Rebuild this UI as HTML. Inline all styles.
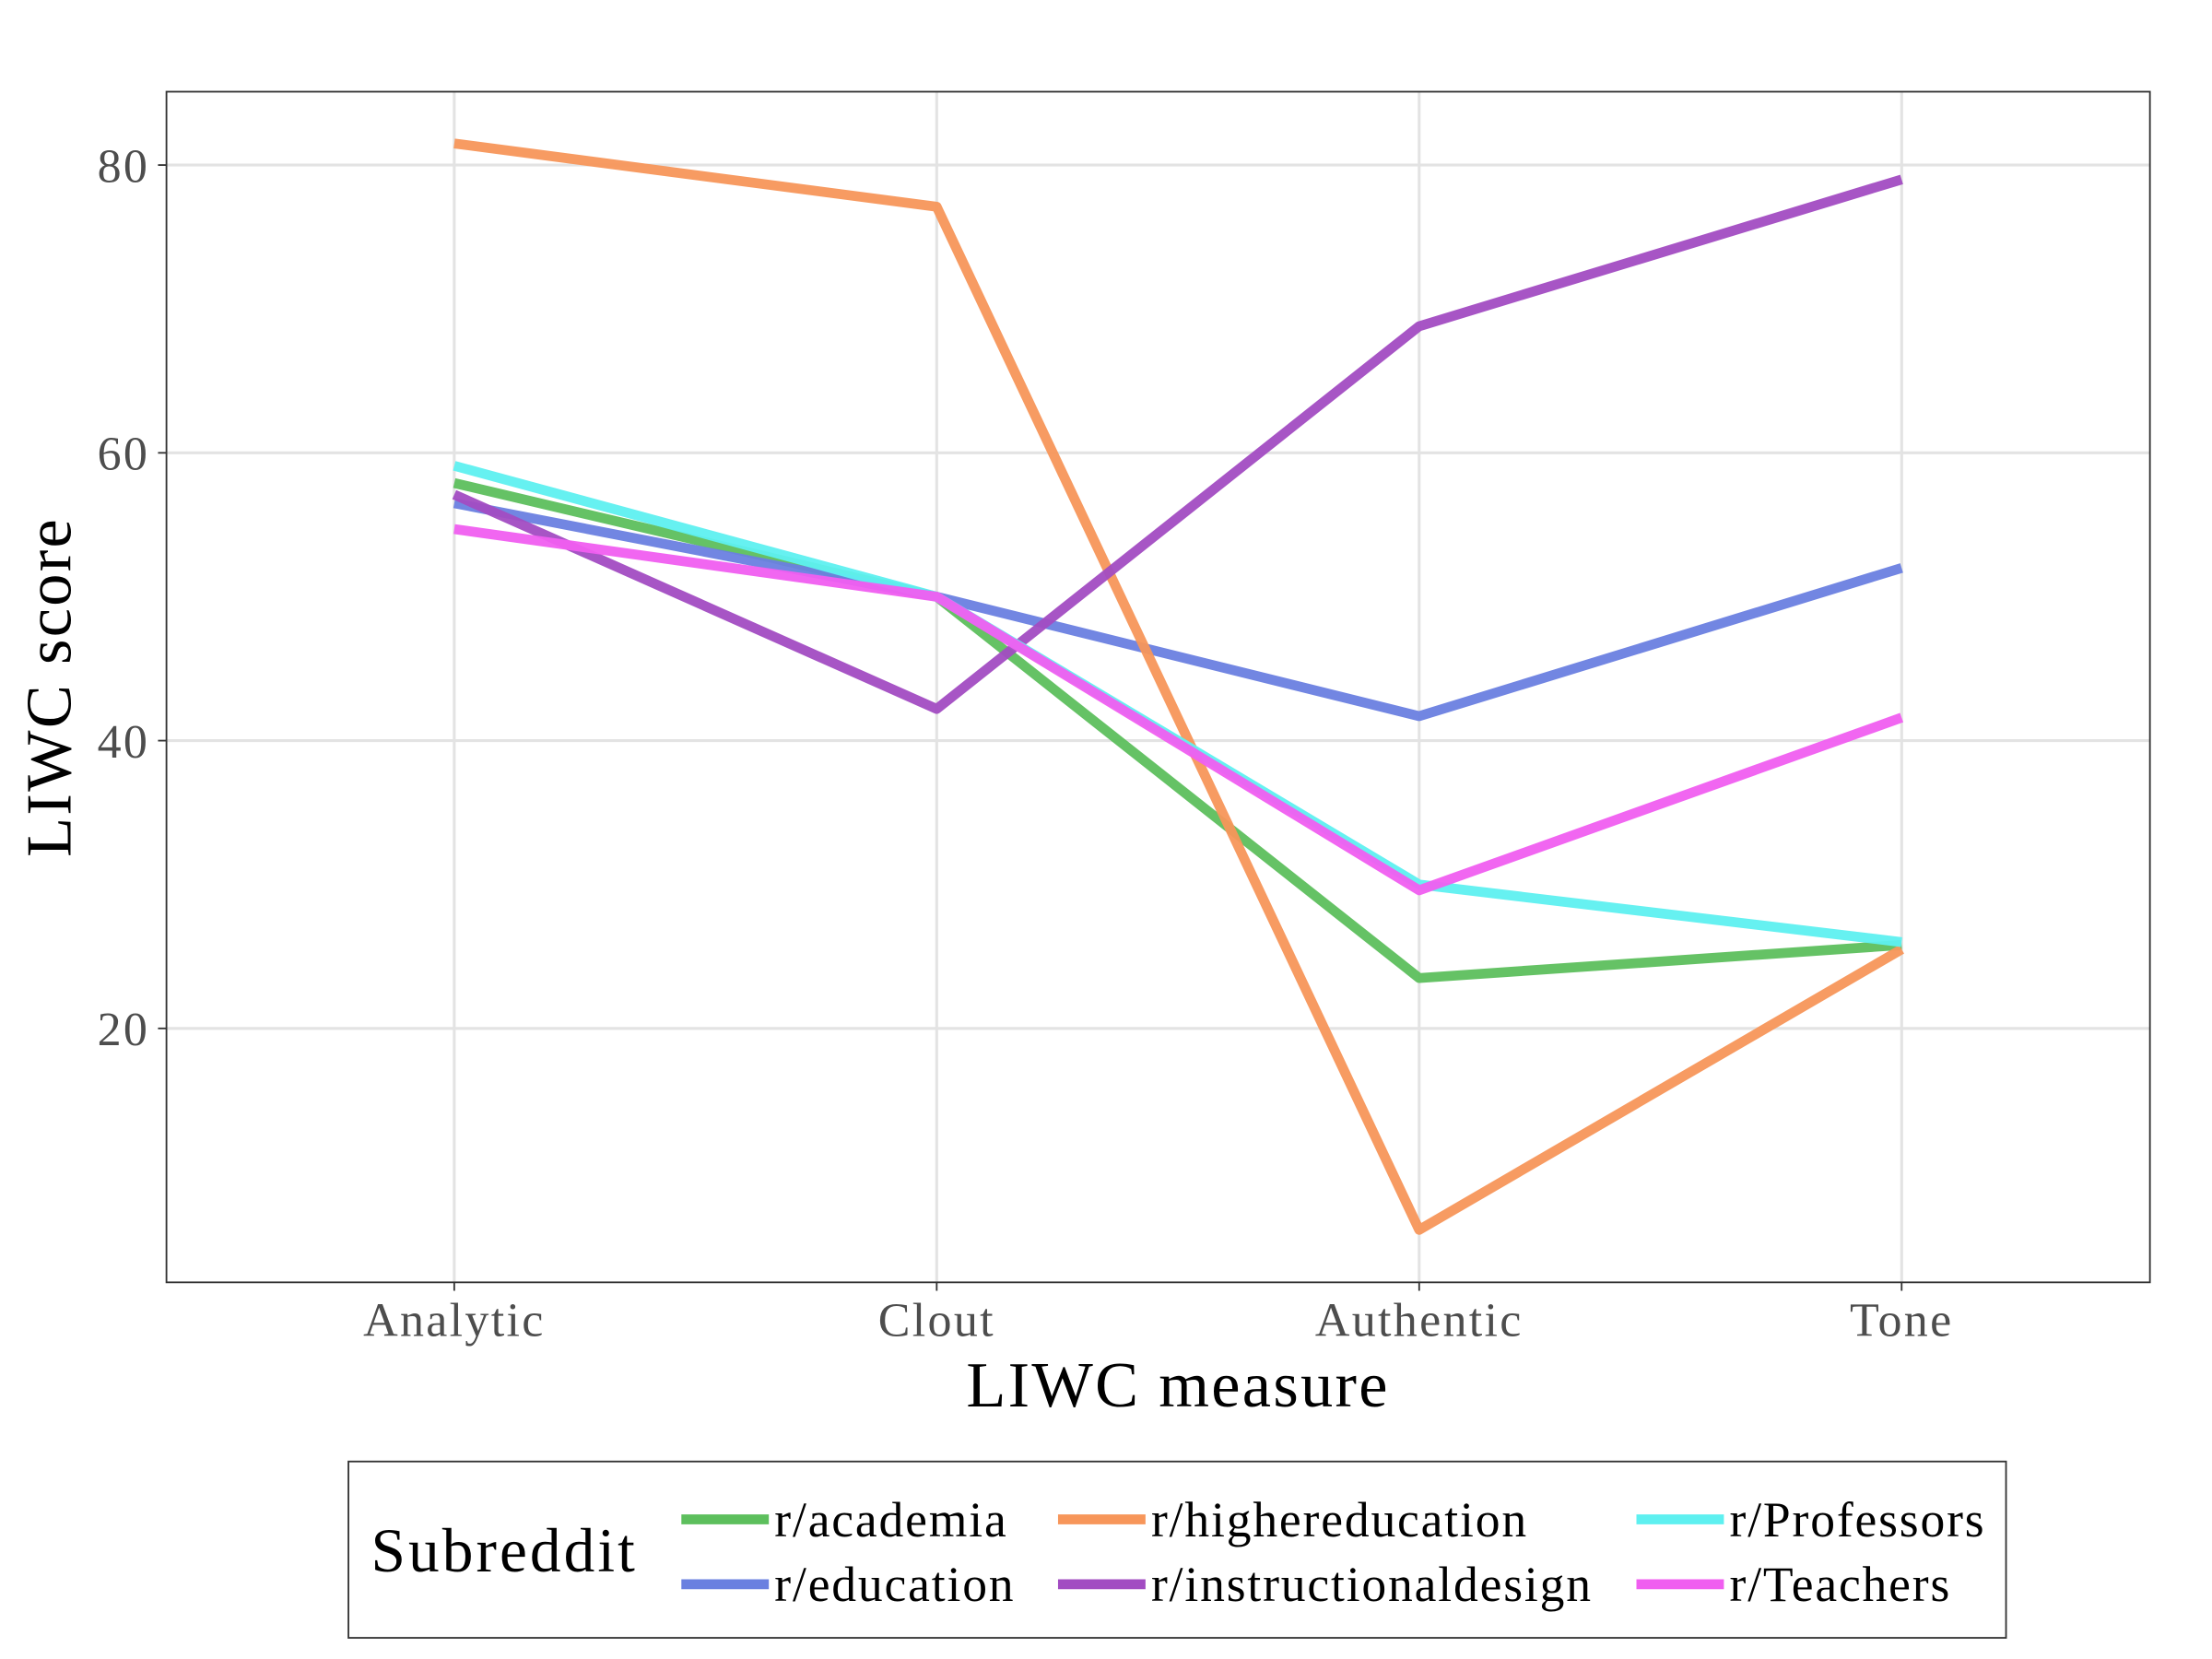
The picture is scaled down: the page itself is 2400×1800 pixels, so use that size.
<!DOCTYPE html>
<html><head><meta charset="utf-8"><style>
html,body{margin:0;padding:0;background:#fff}
svg{display:block}
text{font-family:"Liberation Serif",serif}
</style></head><body>
<svg id="chart" width="2400" height="1800" viewBox="0 0 1568 1176" xmlns="http://www.w3.org/2000/svg">
<rect x="0" y="0" width="1568" height="1176" fill="#fff"/>
<g id="grid"></g>
<g id="lines"></g>
<rect x="118" y="65" width="1406" height="844" fill="none" stroke="#333" stroke-width="1.2"/>
<g id="axes"></g>
<text x="835" y="997" font-size="46" letter-spacing="1.5" text-anchor="middle">LIWC measure</text>
<text transform="translate(50,487) rotate(-90)" font-size="46" letter-spacing="1.5" text-anchor="middle">LIWC score</text>
<g>
<rect x="247" y="1036" width="1175" height="125" fill="#fff" stroke="#333" stroke-width="1.2"/>
<text x="263" y="1114" font-size="44" letter-spacing="2">Subreddit</text>
<g id="legend-entries"></g>
</g>
</svg>
<script>
const categories = ["Analytic","Clout","Authentic","Tone"];
const yTicks = [20,40,60,80];
const seriesNames = ["r/academia","r/education","r/highereducation","r/instructionaldesign","r/Professors","r/Teachers"];
const academia = [57.9,50,23.5,25.8];
const education = [56.5,50,41.7,52];
const highereducation = [81.5,77.1,6.0,25.5];
const instructionaldesign = [57.1,42.2,68.8,79];
const professors = [59.1,50,30,26];
const teachers = [54.7,50,29.6,41.6];
const seriesValues = [academia,education,highereducation,instructionaldesign,professors,teachers];
const colors = ["#5dbf5d","#6a80e0","#f7965a","#a24cc2","#5ef0f0","#f05ef0"];

const NS="http://www.w3.org/2000/svg";
function xScale(i){return 322 + i*342;}
function yScale(v){return 729 - (v-20)*10.2;}
function mk(tag,attrs,parent){const e=document.createElementNS(NS,tag);for(const k in attrs)e.setAttribute(k,attrs[k]);parent.appendChild(e);return e;}
const grid=document.getElementById('grid'), axes=document.getElementById('axes'), lines=document.getElementById('lines');
yTicks.forEach(v=>{
  const y=yScale(v);
  const g=mk('line',{x1:118,x2:1524,y1:y,y2:y,stroke:'#e3e3e3','stroke-width':2},grid);
  
  
  const t=mk('line',{x1:112,x2:118,y1:y,y2:y,stroke:'#333','stroke-width':1.2},axes);
  
  
  const l=mk('text',{x:106,y:y+12,'font-size':34,'letter-spacing':1.5,fill:'#4d4d4d','text-anchor':'end'},axes);
  l.textContent=v;
  
  
});
categories.forEach((c,i)=>{
  const x=xScale(i);
  const g=mk('line',{x1:x,x2:x,y1:65,y2:909,stroke:'#e3e3e3','stroke-width':2},grid);
  
  
  const t=mk('line',{x1:x,x2:x,y1:909,y2:915,stroke:'#333','stroke-width':1.2},axes);
  
  
  const l=mk('text',{x:x,y:947,'font-size':34,'letter-spacing':1.5,fill:'#4d4d4d','text-anchor':'middle'},axes);
  l.textContent=c;
  
  
});
seriesValues.forEach((vals,s)=>{
  const pts=vals.map((v,i)=>xScale(i)+','+yScale(v)).join(' ');
  const p=mk('polyline',{points:pts,fill:'none',stroke:colors[s],'stroke-width':7,'stroke-linejoin':'round','stroke-opacity':0.95},lines);
  
  
});
const le=document.getElementById('legend-entries');
const colX=[483,750,1160], rowY=[1077,1123];
const order=[[0,0,0],[1,0,1],[2,1,0],[3,1,1],[4,2,0],[5,2,1]];
order.forEach(([s,c,r])=>{
  const g=mk('g',{},le);
  
  
  mk('line',{x1:colX[c],x2:colX[c]+62,y1:rowY[r],y2:rowY[r],stroke:colors[s],'stroke-width':7},g);
  const t=mk('text',{x:colX[c]+66,y:rowY[r]+12,'font-size':35,'letter-spacing':1.2},g);
  t.textContent=seriesNames[s];
});
</script>
</body></html>
